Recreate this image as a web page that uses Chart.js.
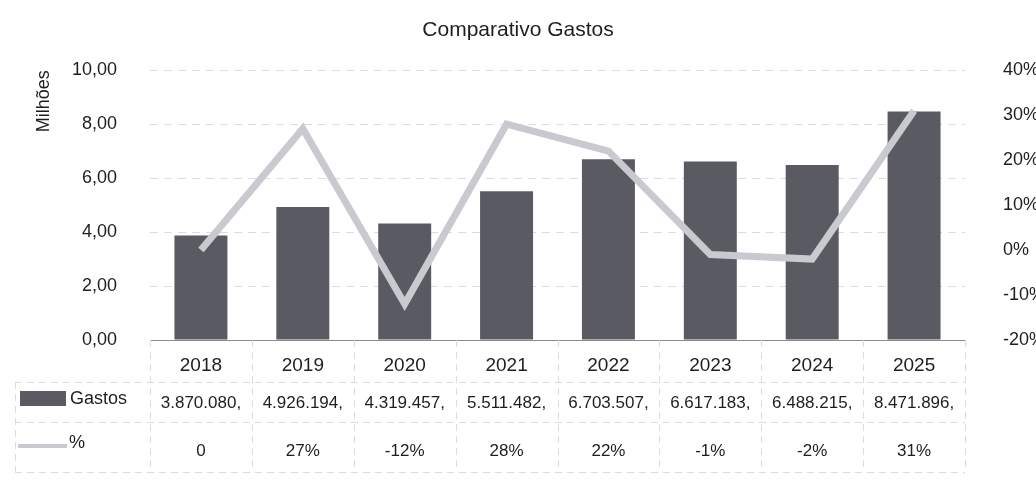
<!DOCTYPE html>
<html>
<head>
<meta charset="utf-8">
<title>Comparativo Gastos</title>
<script src="https://cdn.jsdelivr.net/npm/chart.js@4.4.1/dist/chart.umd.min.js"></script>
<style>
    html, body { margin: 0; padding: 0; background: #fff; overflow: hidden; }
    #wrap { width: 1036px; height: 480px; position: relative; }
</style>
</head>
<body>
<div id="wrap"><canvas id="gastosChart"></canvas></div>
<script>
var years = ['2018', '2019', '2020', '2021', '2022', '2023', '2024', '2025'];
var gastos = [3870080, 4926194, 4319457, 5511482, 6703507, 6617183, 6488215, 8471896];
var variacao = [0, 27, -12, 28, 22, -1, -2, 31]; // %
var leftTicks = [0, 2, 4, 6, 8, 10];   // Milhões
var rightTicks = [-20, -10, 0, 10, 20, 30, 40]; // %

(function () {
    'use strict';

    var FONT = '"Liberation Sans", Arial, sans-serif';
    var BAR = '#5a5a62';
    var LINE = '#c9cacf';
    var TEXT = '#1e1e1e';
    var GRID = '#dcdcdc';

    var AREA_LEFT = 150, AREA_RIGHT = 965, AREA_BOTTOM = 340;
    var ROW1 = 382, ROW2 = 422, TABLE_END = 472;

    function milhoes(v) {
        return v / 1e6;
    }

    function fmtMil(v) {
        // 10,00 style
        return v.toFixed(2).replace('.', ',');
    }

    function fmtGasto(v) {
        // Excel cut the decimals, leaving the trailing comma
        return String(v).replace(/\B(?=(\d{3})+(?!\d))/g, '.') + ',';
    }

    function fmtPct(v) {
        return v === 0 ? '0' : v + '%';
    }

    // data table below the plot, aligned to the x scale
    var dataTable = {
        id: 'dataTable',
        afterDraw: function (chart) {
            var ctx = chart.ctx;
            var xs = chart.scales.x;
            var n = years.length;
            var step = (xs.right - xs.left) / n;
            ctx.save();

            // table grid
            ctx.strokeStyle = GRID;
            ctx.lineWidth = 1;
            ctx.setLineDash([7, 5]);
            ctx.beginPath();
            for (var i = 0; i <= n; i++) {
                var bx = Math.round(xs.left + i * step) + 0.5;
                ctx.moveTo(bx, xs.top);
                ctx.lineTo(bx, TABLE_END);
            }
            [ROW1, ROW2, TABLE_END].forEach(function (y) {
                ctx.moveTo(15, y + 0.5);
                ctx.lineTo(xs.right, y + 0.5);
            });
            ctx.moveTo(15.5, ROW1);
            ctx.lineTo(15.5, TABLE_END);
            ctx.stroke();
            ctx.setLineDash([]);

            // legend keys
            ctx.fillStyle = BAR;
            ctx.fillRect(20, 391, 46, 15);
            ctx.strokeStyle = LINE;
            ctx.lineWidth = 4;
            ctx.beginPath();
            ctx.moveTo(18, 446);
            ctx.lineTo(67, 446);
            ctx.stroke();

            ctx.fillStyle = TEXT;
            ctx.font = '18px ' + FONT;
            ctx.textBaseline = 'middle';
            ctx.textAlign = 'left';
            ctx.fillText('Gastos', 70, 399);
            ctx.fillText('%', 69, 443);

            ctx.font = '17px ' + FONT;
            ctx.textAlign = 'center';
            for (var j = 0; j < n; j++) {
                var cx = xs.getPixelForValue(j);
                ctx.fillText(fmtGasto(gastos[j]), cx, 403);
                ctx.fillText(fmtPct(variacao[j]), cx, 451);
            }
            ctx.restore();
        }
    };

    function boot() {
        var canvas = document.getElementById('gastosChart');
        canvas.width = 1036;
        canvas.height = 480;
        var ctx = canvas.getContext('2d');

        new Chart(ctx, {
            type: 'bar',
            data: {
                labels: years,
                datasets: [{
                    type: 'line',
                    label: '%',
                    data: variacao.map(function (v) { return v / 100; }),
                    yAxisID: 'y1',
                    borderColor: LINE,
                    backgroundColor: LINE,
                    borderWidth: 7,
                    pointRadius: 0,
                    tension: 0,
                    order: 0
                }, {
                    label: 'Gastos',
                    data: gastos.map(milhoes),
                    yAxisID: 'y',
                    backgroundColor: BAR,
                    borderWidth: 0,
                    barPercentage: 0.52,
                    categoryPercentage: 1,
                    order: 1
                }]
            },
            plugins: [dataTable],
            options: {
                responsive: false,
                animation: false,
                layout: { padding: { top: 0, bottom: 0, left: 0, right: 0 } },
                plugins: {
                    legend: { display: false },
                    tooltip: { enabled: false },
                    title: {
                        display: true,
                        text: 'Comparativo Gastos',
                        color: TEXT,
                        font: { family: FONT, size: 21, weight: 'normal' },
                        padding: { top: 18, bottom: 27 }
                    }
                },
                scales: {
                    x: {
                        grid: { display: false, drawTicks: false },
                        border: { display: true, color: '#8a8a8a', width: 1 },
                        ticks: {
                            color: TEXT,
                            font: { family: FONT, size: 19 },
                            padding: 14,
                            maxRotation: 0
                        },
                        afterFit: function (s) { s.height = 480 - AREA_BOTTOM; }
                    },
                    y: {
                        position: 'left',
                        min: 0,
                        max: 10,
                        afterBuildTicks: function (s) {
                            s.ticks = leftTicks.map(function (v) { return { value: v }; });
                        },
                        grid: { color: GRID, drawTicks: false },
                        border: { display: false, dash: [8, 6] },
                        ticks: {
                            color: TEXT,
                            font: { family: FONT, size: 18 },
                            padding: 33,
                            callback: function (v) { return fmtMil(v); }
                        },
                        title: {
                            display: true,
                            text: 'Milhões',
                            align: 'end',
                            color: TEXT,
                            font: { family: FONT, size: 18 },
                            padding: { top: 33, bottom: 0 }
                        },
                        afterFit: function (s) { s.width = AREA_LEFT; }
                    },
                    y1: {
                        position: 'right',
                        min: -0.2,
                        max: 0.4,
                        afterBuildTicks: function (s) {
                            s.ticks = rightTicks.map(function (v) { return { value: v / 100 }; });
                        },
                        grid: { display: false, drawTicks: false },
                        border: { display: false },
                        ticks: {
                            color: TEXT,
                            font: { family: FONT, size: 18 },
                            padding: 38,
                            callback: function (v) { return Math.round(v * 100) + '%'; }
                        },
                        afterFit: function (s) { s.width = 1036 - AREA_RIGHT; }
                    }
                }
            }
        });
    }

    if (document.readyState === 'loading') {
        document.addEventListener('DOMContentLoaded', boot);
    } else {
        boot();
    }
})();
</script>
</body>
</html>
